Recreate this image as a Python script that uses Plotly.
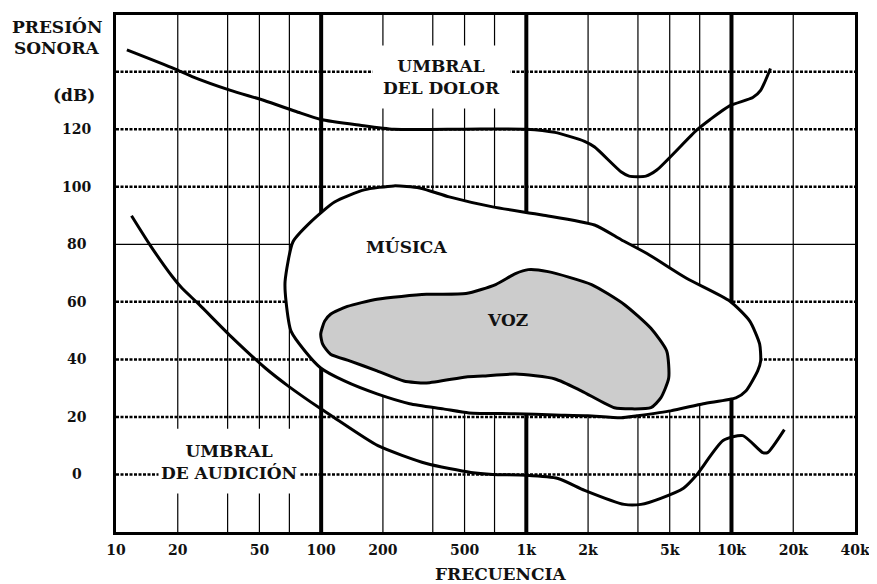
import math
import plotly.graph_objects as go

# ---------------- data ----------------
x_tick_vals = [10, 20, 50, 100, 200, 500, 1000, 2000, 5000, 10000, 20000, 40000]
x_tick_text = ["10", "20", "50", "100", "200", "500", "1k", "2k", "5k", "10k", "20k", "40k"]
y_tick_vals = [0, 20, 40, 60, 80, 100, 120]
y_tick_text = ["0", "20", "40", "60", "80", "100", "120"]

grid_thin_f = [20, 35, 50, 70, 200, 350, 500, 700, 2000, 3500, 5000, 7000, 20000]
grid_thick_f = [100, 1000, 10000]
grid_dotted_db = [0, 20, 40, 60, 100, 120, 140]
grid_solid_db = [80]

# Umbral del dolor
pain_f = [11.3, 19.2, 23.5, 36.2, 52.8, 77.1, 99.6, 155, 226, 500, 1000, 1377,
          1923, 2153, 2904, 3170, 3828, 4325, 6743, 7873, 9833, 12700, 13870, 15490]
pain_db = [147.6, 141.1, 138.3, 133.5, 130.0, 125.9, 123.4, 121.4, 120, 120, 120, 118.9,
           115.8, 113.8, 105.1, 103.7, 103.7, 105.8, 119.6, 123.4, 128.2, 131.0, 133.5, 141.1]

# Umbral de audición
hear_f = [11.9, 14.6, 18.8, 21.0, 25.4, 36.2, 53.4, 68.9, 99.6, 116, 189, 326, 537, 686,
          1000, 1426, 1923, 3000, 3622, 4520, 5834, 6743, 9100, 11360, 14190, 15000, 18100]
hear_db = [89.9, 79.9, 68.8, 64.7, 59.1, 48.1, 37.0, 30.8, 22.8, 19.7, 10.0, 3.8, 0.7, 0,
           -0.3, -1.4, -5.5, -10.4, -10.4, -8.3, -4.8, -0.3, 11.8, 13.5, 7.6, 7.6, 15.6]

# Música
music_f = [66.7, 72.9, 89.0, 116.2, 162.0, 226.1, 301.6, 420.9, 685.8, 1194, 2150, 2901,
           3873, 6036, 9835, 12280, 13720, 13870, 13420, 11750, 10510, 7290, 5053, 3466,
           2901, 1990, 1380, 885, 525.5, 393.8, 270.0, 187.2, 129.8, 99.5, 83.3, 71.3, 67.4]
music_db = [67.1, 80.9, 87.8, 94.7, 98.9, 100.3, 99.6, 96.5, 93.0, 90.2, 86.7, 81.6,
            76.8, 68.2, 60.2, 53.3, 45.3, 39.4, 36.0, 29.0, 26.6, 24.6, 22.1, 20.4,
            19.7, 20.4, 20.7, 21.1, 21.4, 22.8, 24.6, 28.0, 32.5, 37.0, 42.9, 49.8, 60.2]

# Voz
voz_f = [99.5, 104, 111.1, 134.2, 187.2, 326.1, 508.1, 708.8, 885.0, 1022, 1276, 2080,
         3000, 4048, 4834, 4943, 4522, 4048, 3243, 2686, 1862, 1380, 885, 613.8, 508.1,
         326.1, 252.6, 187.2, 138.7, 111.1, 101.7]
voz_db = [48.8, 53.3, 55.7, 58.4, 60.9, 62.6, 62.9, 66.0, 69.8, 71.2, 70.5, 66.0,
          59.1, 50.8, 42.9, 33.5, 26.6, 23.2, 22.8, 23.2, 29.0, 33.2, 34.9, 34.2, 33.9,
          31.8, 32.5, 36.0, 39.4, 41.8, 45.3]

# ---------------- figure ----------------
X_MIN, X_MAX = 10, 40000
Y_MIN, Y_MAX = -20, 159.7
FONT = "DejaVu Serif"
INK = "#111111"

fig = go.Figure()


def vline_trace(vals, width):
    xs, ys = [], []
    for v in vals:
        xs += [v, v, None]
        ys += [Y_MIN, Y_MAX, None]
    return go.Scatter(x=xs, y=ys, mode="lines", line=dict(color="black", width=width),
                      hoverinfo="skip", showlegend=False)


def hline_trace(vals, width, dash):
    xs, ys = [], []
    for v in vals:
        xs += [X_MIN, X_MAX, None]
        ys += [v, v, None]
    return go.Scatter(x=xs, y=ys, mode="lines",
                      line=dict(color="black", width=width, dash=dash),
                      hoverinfo="skip", showlegend=False)


fig.add_trace(vline_trace(grid_thin_f, 1.2))
fig.add_trace(vline_trace(grid_thick_f, 4))

# white box behind "UMBRAL DE AUDICIÓN" (breaks vertical lines)
fig.add_trace(go.Scatter(x=[10, 81, 81, 10, 10], y=[-6.6, -6.6, 15.9, 15.9, -6.6],
                         mode="lines", fill="toself", fillcolor="white",
                         line=dict(width=0, color="white"), hoverinfo="skip",
                         showlegend=False))

fig.add_trace(hline_trace(grid_dotted_db, 2.5, "3px,1.5px"))
fig.add_trace(hline_trace(grid_solid_db, 1.2, "solid"))

curve_line = dict(color="black", width=3, shape="spline", smoothing=0.6)

fig.add_trace(go.Scatter(x=hear_f, y=hear_db, mode="lines", line=curve_line,
                         showlegend=False, hoverinfo="skip"))
fig.add_trace(go.Scatter(x=pain_f, y=pain_db, mode="lines", line=curve_line,
                         showlegend=False, hoverinfo="skip"))
fig.add_trace(go.Scatter(x=music_f + [music_f[0]], y=music_db + [music_db[0]],
                         mode="lines", fill="toself", fillcolor="white",
                         line=curve_line, showlegend=False, hoverinfo="skip"))
fig.add_trace(go.Scatter(x=voz_f + [voz_f[0]], y=voz_db + [voz_db[0]],
                         mode="lines", fill="toself", fillcolor="#cccccc",
                         line=curve_line, showlegend=False, hoverinfo="skip"))

annotations = []
# y tick labels (centered)
for v, t in zip(y_tick_vals, y_tick_text):
    annotations.append(dict(x=-0.0528, xref="paper", y=v, yref="y", text=t,
                            showarrow=False, xanchor="center", yanchor="middle",
                            font=dict(family=FONT, size=14, color=INK, weight="bold")))

label_font = dict(family=FONT, size=17, color=INK, weight="bold")
annotations += [
    dict(x=-0.0798, xref="paper", y=0.977, yref="paper", text="PRESIÓN",
         showarrow=False, xanchor="center", yanchor="middle", font=label_font),
    dict(x=-0.0798, xref="paper", y=0.9366, yref="paper", text="SONORA",
         showarrow=False, xanchor="center", yanchor="middle", font=label_font),
    dict(x=-0.0568, xref="paper", y=0.846, yref="paper", text="(dB)",
         showarrow=False, xanchor="center", yanchor="middle", font=label_font),
    dict(x=0.52, xref="paper", y=-0.082, yref="paper", text="FRECUENCIA",
         showarrow=False, xanchor="center", yanchor="middle", font=label_font),
    dict(x=math.log10(385), y=138, text="UMBRAL<br>DEL DOLOR", showarrow=False,
         xanchor="center", yanchor="middle", bgcolor="white", borderpad=10,
         font=label_font),
    dict(x=math.log10(35.4), y=4.3, text="UMBRAL<br>DE AUDICIÓN", showarrow=False,
         xanchor="center", yanchor="middle", bgcolor="white", borderpad=2,
         font=label_font),
    dict(x=math.log10(261), y=79.2, text="MÚSICA", showarrow=False,
         xanchor="center", yanchor="middle", font=label_font),
    dict(x=math.log10(809), y=53.6, text="VOZ", showarrow=False,
         xanchor="center", yanchor="middle", font=label_font),
]

# page body adds an 8px margin: size and margins compensate for it
fig.update_layout(
    width=869, height=576,
    margin=dict(l=108, r=22, t=4, b=52),
    paper_bgcolor="white", plot_bgcolor="white",
    showlegend=False,
    annotations=annotations,
    xaxis=dict(type="log", range=[math.log10(X_MIN), math.log10(X_MAX)],
               showgrid=False, zeroline=False,
               showline=True, linewidth=3, linecolor="black", mirror=True,
               tickvals=x_tick_vals, ticktext=x_tick_text, ticks="",
               ticklabelstandoff=3,
               tickfont=dict(family=FONT, size=14, color=INK, weight="bold"),
               fixedrange=True),
    yaxis=dict(range=[Y_MIN, Y_MAX], showgrid=False, zeroline=False,
               showline=True, linewidth=3, linecolor="black", mirror=True,
               showticklabels=False, ticks="", fixedrange=True),
)

fig.write_html("out.html")
